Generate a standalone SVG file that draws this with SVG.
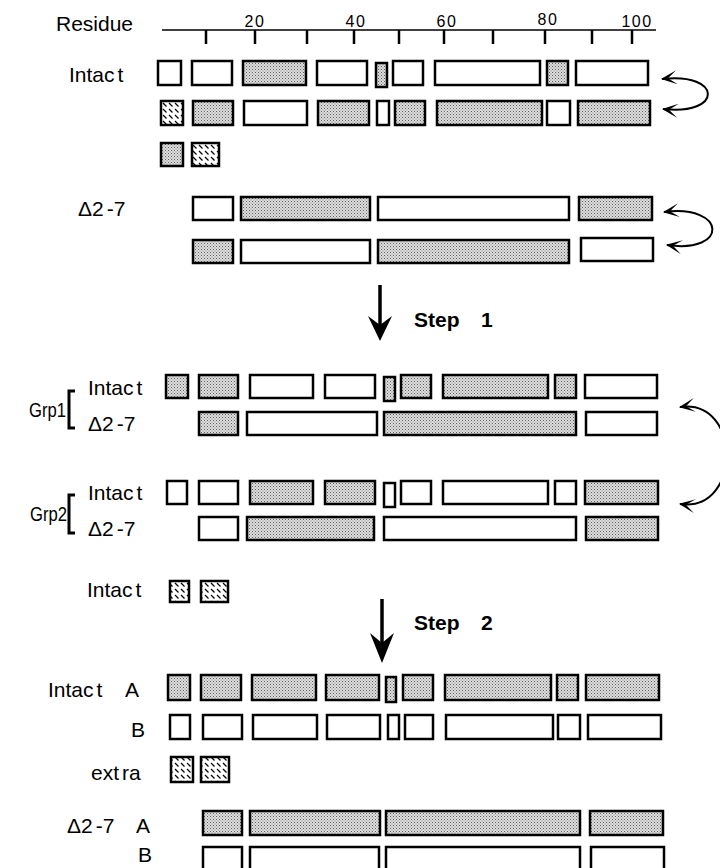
<svg xmlns="http://www.w3.org/2000/svg" width="720" height="868" viewBox="0 0 720 868">
<style>
text{font-family:"Liberation Sans",Arial,sans-serif;fill:#000}
.lab{font-size:21px}
.num{font-size:16px;letter-spacing:1.5px}
.grp{font-size:20px}
.step{font-size:21px;font-weight:bold}
.w,.g,.h{stroke:#000;stroke-width:2.5}
.w{fill:#fff}
.g{fill:url(#dots)}
.h{fill:url(#hatch)}
.tick{stroke:#000;stroke-width:2.5}
.curve{fill:none;stroke:#000;stroke-width:2}
.shaft{stroke:#000;stroke-width:3.5}
.br{fill:none;stroke:#000;stroke-width:3}
</style>
<defs>
<pattern id="dots" width="3" height="3" patternUnits="userSpaceOnUse">
<rect x="0" y="0" width="3" height="3" fill="#dedede"/>
<rect x="0" y="0" width="1" height="1" fill="#5e5e5e"/>
<rect x="1.5" y="1.5" width="1" height="1" fill="#808080"/>
</pattern>
<pattern id="hatch" width="6" height="6" patternUnits="userSpaceOnUse">
<rect x="0" y="0" width="6" height="6" fill="#fff"/>
<path d="M1,1 L4.5,4.5" stroke="#000" stroke-width="1.3"/>
</pattern>
<marker id="barb" viewBox="0 0 16 14" refX="15" refY="7" markerWidth="16" markerHeight="14" markerUnits="userSpaceOnUse" orient="auto-start-reverse">
<path d="M0,0 L16,7 L0,14 L9,7 z" fill="#000"/>
</marker>
</defs>

<g id="ruler">
<text class="lab" x="56" y="31">Residue</text>
<line x1="162" y1="30" x2="656" y2="30" stroke="#000" stroke-width="1.5"/>
<line class="tick" x1="206" y1="30" x2="206" y2="44"/>
<line class="tick" x1="255" y1="30" x2="255" y2="44"/>
<line class="tick" x1="307" y1="30" x2="307" y2="44"/>
<line class="tick" x1="354" y1="30" x2="354" y2="44"/>
<line class="tick" x1="399" y1="30" x2="399" y2="44"/>
<line class="tick" x1="444" y1="30" x2="444" y2="44"/>
<line class="tick" x1="493" y1="30" x2="493" y2="44"/>
<line class="tick" x1="545" y1="30" x2="545" y2="44"/>
<line class="tick" x1="592" y1="30" x2="592" y2="44"/>
<line class="tick" x1="632" y1="30" x2="632" y2="44"/>
<text class="num" x="255" y="27" text-anchor="middle">20</text>
<text class="num" x="356" y="27" text-anchor="middle">40</text>
<text class="num" x="447" y="27" text-anchor="middle">60</text>
<text class="num" x="548" y="25" text-anchor="middle">80</text>
<text class="num" x="637" y="27" text-anchor="middle">100</text>
</g>

<g id="intact-top-1">
<text class="lab" x="69" y="82">Intac<tspan dx="3">t</tspan></text>
<rect class="w" x="158" y="61" width="23" height="24"/>
<rect class="w" x="192" y="61" width="40" height="24"/>
<rect class="g" x="243" y="61" width="63" height="24"/>
<rect class="w" x="317" y="61" width="50" height="24"/>
<rect class="g" x="376" y="63" width="11" height="24"/>
<rect class="w" x="393" y="61" width="30" height="24"/>
<rect class="w" x="435" y="61" width="105" height="24"/>
<rect class="g" x="547" y="61" width="21" height="24"/>
<rect class="w" x="576" y="61" width="72" height="24"/>
</g>
<g id="intact-top-2">
<rect class="h" x="161" y="101" width="22" height="24"/>
<rect class="g" x="193" y="101" width="40" height="24"/>
<rect class="w" x="244" y="101" width="63" height="24"/>
<rect class="g" x="318" y="101" width="51" height="24"/>
<rect class="w" x="377" y="101" width="12" height="24"/>
<rect class="g" x="395" y="101" width="30" height="24"/>
<rect class="g" x="437" y="101" width="105" height="24"/>
<rect class="w" x="547" y="101" width="23" height="24"/>
<rect class="g" x="578" y="101" width="72" height="24"/>
</g>
<g id="intact-top-3">
<rect class="g" x="161" y="143" width="22" height="23"/>
<rect class="h" x="192" y="143" width="27" height="23"/>
</g>

<g id="delta-top-1">
<text class="lab" x="78" y="216">Δ2<tspan dx="3">-7</tspan></text>
<rect class="w" x="193" y="197" width="40" height="23"/>
<rect class="g" x="241" y="197" width="129" height="23"/>
<rect class="w" x="378" y="197" width="191" height="23"/>
<rect class="g" x="579" y="197" width="73" height="23"/>
</g>
<g id="delta-top-2">
<rect class="g" x="193" y="240" width="40" height="23"/>
<rect class="w" x="241" y="240" width="129" height="23"/>
<rect class="g" x="378" y="240" width="191" height="23"/>
<rect class="w" x="581" y="238" width="72" height="23"/>
</g>

<g id="grp1">
<text class="grp" x="29" y="417" textLength="37" lengthAdjust="spacingAndGlyphs">Grp1</text>
<path class="br" d="M75,391 L69,391 L69,428 L75,428"/>
</g>
<g id="grp1-intact">
<text class="lab" x="88" y="395">Intac<tspan dx="3">t</tspan></text>
<rect class="g" x="166" y="375" width="22" height="23"/>
<rect class="g" x="199" y="375" width="39" height="23"/>
<rect class="w" x="250" y="375" width="63" height="23"/>
<rect class="w" x="325" y="375" width="50" height="23"/>
<rect class="g" x="384" y="377" width="11" height="24"/>
<rect class="g" x="401" y="375" width="30" height="23"/>
<rect class="g" x="443" y="375" width="105" height="23"/>
<rect class="g" x="555" y="375" width="21" height="23"/>
<rect class="w" x="585" y="375" width="72" height="23"/>
</g>
<g id="grp1-delta">
<text class="lab" x="88" y="431">Δ2<tspan dx="3">-7</tspan></text>
<rect class="g" x="199" y="412" width="39" height="23"/>
<rect class="w" x="247" y="412" width="130" height="23"/>
<rect class="g" x="384" y="412" width="192" height="23"/>
<rect class="w" x="586" y="412" width="71" height="23"/>
</g>

<g id="grp2">
<text class="grp" x="30" y="521" textLength="37" lengthAdjust="spacingAndGlyphs">Grp2</text>
<path class="br" d="M75,495 L69,495 L69,533 L75,533"/>
</g>
<g id="grp2-intact">
<text class="lab" x="88" y="500">Intac<tspan dx="3">t</tspan></text>
<rect class="w" x="167" y="481" width="20" height="23"/>
<rect class="w" x="199" y="481" width="39" height="23"/>
<rect class="g" x="250" y="481" width="63" height="23"/>
<rect class="g" x="325" y="481" width="50" height="23"/>
<rect class="w" x="384" y="483" width="11" height="24"/>
<rect class="w" x="401" y="481" width="30" height="23"/>
<rect class="w" x="443" y="481" width="105" height="23"/>
<rect class="w" x="555" y="481" width="21" height="23"/>
<rect class="g" x="585" y="481" width="73" height="23"/>
</g>
<g id="grp2-delta">
<text class="lab" x="88" y="536">Δ2<tspan dx="3">-7</tspan></text>
<rect class="w" x="199" y="517" width="39" height="23"/>
<rect class="g" x="247" y="517" width="127" height="23"/>
<rect class="w" x="384" y="517" width="192" height="23"/>
<rect class="g" x="586" y="517" width="72" height="23"/>
</g>

<g id="intact-extra">
<text class="lab" x="87" y="597">Intac<tspan dx="3">t</tspan></text>
<rect class="h" x="170" y="581" width="19" height="21"/>
<rect class="h" x="201" y="581" width="27" height="21"/>
</g>

<g id="intact-a">
<text class="lab" x="48" y="697">Intac<tspan dx="3">t</tspan></text>
<text class="lab" x="125" y="697">A</text>
<rect class="g" x="168" y="675" width="22" height="25"/>
<rect class="g" x="201" y="675" width="40" height="25"/>
<rect class="g" x="252" y="675" width="64" height="25"/>
<rect class="g" x="326" y="675" width="53" height="25"/>
<rect class="g" x="386" y="677" width="10" height="25"/>
<rect class="g" x="403" y="675" width="30" height="25"/>
<rect class="g" x="445" y="675" width="106" height="25"/>
<rect class="g" x="557" y="675" width="21" height="25"/>
<rect class="g" x="586" y="675" width="73" height="25"/>
</g>
<g id="intact-b">
<text class="lab" x="131" y="737">B</text>
<rect class="w" x="170" y="715" width="20" height="24"/>
<rect class="w" x="203" y="715" width="39" height="24"/>
<rect class="w" x="253" y="715" width="64" height="24"/>
<rect class="w" x="327" y="715" width="53" height="24"/>
<rect class="w" x="388" y="715" width="11" height="24"/>
<rect class="w" x="405" y="715" width="28" height="24"/>
<rect class="w" x="446" y="715" width="107" height="24"/>
<rect class="w" x="558" y="715" width="22" height="24"/>
<rect class="w" x="588" y="715" width="73" height="24"/>
</g>
<g id="extra">
<text class="lab" x="91" y="780">ext<tspan dx="3">ra</tspan></text>
<rect class="h" x="171" y="757" width="22" height="25"/>
<rect class="h" x="201" y="757" width="28" height="25"/>
</g>
<g id="delta-a">
<text class="lab" x="67" y="833">Δ2<tspan dx="3">-7</tspan></text>
<text class="lab" x="136" y="833">A</text>
<rect class="g" x="203" y="811" width="39" height="24"/>
<rect class="g" x="250" y="811" width="130" height="24"/>
<rect class="g" x="386" y="811" width="194" height="24"/>
<rect class="g" x="590" y="811" width="73" height="24"/>
</g>
<g id="delta-b">
<text class="lab" x="138" y="862">B</text>
<rect class="w" x="203" y="847" width="39" height="30"/>
<rect class="w" x="250" y="847" width="129" height="30"/>
<rect class="w" x="386" y="847" width="194" height="30"/>
<rect class="w" x="591" y="847" width="73" height="30"/>
</g>

<g id="connectors">
<path class="curve" d="M662,79 C723,72 723,116 663,109" marker-start="url(#barb)" marker-end="url(#barb)"/>
<path class="curve" d="M664,212 C727,204 729,254 667,245" marker-start="url(#barb)" marker-end="url(#barb)"/>
<path class="curve" d="M680,407 C742,398 742,513 680,504" marker-start="url(#barb)" marker-end="url(#barb)"/>
<line class="shaft" x1="380" y1="285" x2="380" y2="330"/>
<path d="M368,316 L380,341 L392,316 L380,325 z" fill="#000"/>
<line class="shaft" x1="382" y1="599" x2="382" y2="650"/>
<path d="M370,633 L382,663 L394,633 L382,643 z" fill="#000"/>
<text class="step" x="414" y="327">Step <tspan x="481">1</tspan></text>
<text class="step" x="414" y="630">Step <tspan x="481">2</tspan></text>
</g>
</svg>
